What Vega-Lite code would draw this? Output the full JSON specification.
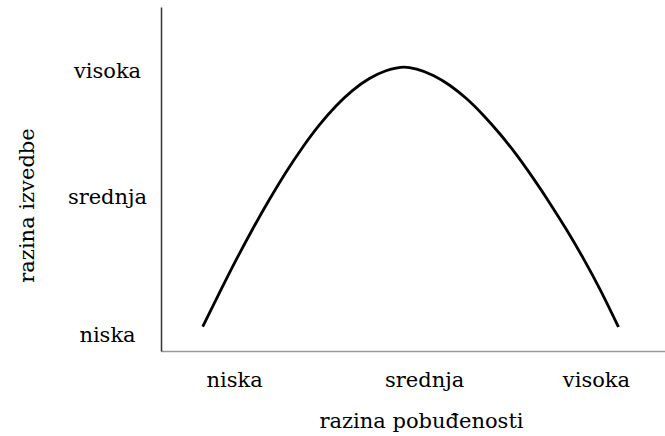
{
  "$schema": "https://vega.github.io/schema/vega-lite/v6.json",
  "width": 504,
  "height": 344,
  "autosize": {"type": "none"},
  "padding": {"left": 161, "top": 7, "right": 0, "bottom": 85},
  "background": "white",
  "config": {"view": {"stroke": null}, "font": "DejaVu Serif"},
  "data": {
    "values": [
      {"pobudenost": 8.27, "izvedba": 7.06},
      {"pobudenost": 11.59, "izvedba": 16.89},
      {"pobudenost": 14.88, "izvedba": 26.4},
      {"pobudenost": 18.19, "izvedba": 35.47},
      {"pobudenost": 21.51, "izvedba": 44.04},
      {"pobudenost": 24.8, "izvedba": 51.98},
      {"pobudenost": 28.12, "izvedba": 59.24},
      {"pobudenost": 31.43, "izvedba": 65.7},
      {"pobudenost": 34.72, "izvedba": 71.22},
      {"pobudenost": 38.04, "izvedba": 75.78},
      {"pobudenost": 41.35, "izvedba": 79.22},
      {"pobudenost": 44.64, "izvedba": 81.48},
      {"pobudenost": 48.3, "izvedba": 82.55},
      {"pobudenost": 50.73, "izvedba": 81.95},
      {"pobudenost": 54.03, "izvedba": 80.09},
      {"pobudenost": 57.34, "izvedba": 77.18},
      {"pobudenost": 60.65, "izvedba": 73.31},
      {"pobudenost": 63.95, "izvedba": 68.55},
      {"pobudenost": 67.26, "izvedba": 63.08},
      {"pobudenost": 70.58, "izvedba": 56.92},
      {"pobudenost": 73.87, "izvedba": 50.17},
      {"pobudenost": 77.18, "izvedba": 42.91},
      {"pobudenost": 80.5, "izvedba": 35.15},
      {"pobudenost": 83.79, "izvedba": 26.92},
      {"pobudenost": 87.1, "izvedba": 17.94},
      {"pobudenost": 90.77, "izvedba": 6.98}
    ]
  },
  "mark": {"type": "line", "color": "black", "strokeWidth": 2.8, "interpolate": "monotone"},
  "encoding": {
    "x": {
      "field": "pobudenost",
      "type": "quantitative",
      "scale": {"domain": [0, 100]},
      "axis": {
        "values": [14.5, 52.2, 86.3],
        "labelExpr": "datum.value < 30 ? 'niska' : datum.value < 70 ? 'srednja' : 'visoka'",
        "grid": false,
        "ticks": false,
        "tickSize": 0,
        "domainColor": "#999999",
        "domainWidth": 1.5,
        "labelPadding": 18,
        "labelFont": "DejaVu Serif",
        "labelFontSize": 21,
        "labelColor": "black",
        "labelFlush": false,
        "labelOverlap": false,
        "labelAlign": "center",
        "title": "razina pobuđenosti",
        "titleFont": "DejaVu Serif",
        "titleFontSize": 21,
        "titleFontWeight": "normal",
        "titleColor": "black",
        "titleX": 260,
        "titleY": 76,
        "titleAlign": "center",
        "titleBaseline": "alphabetic"
      }
    },
    "y": {
      "field": "izvedba",
      "type": "quantitative",
      "scale": {"domain": [0, 100]},
      "axis": {
        "values": [4.45, 44.6, 81.2],
        "labelExpr": "datum.value < 30 ? 'niska' : datum.value < 70 ? 'srednja' : 'visoka'",
        "grid": false,
        "ticks": false,
        "tickSize": 0,
        "domainColor": "#333333",
        "domainWidth": 1.5,
        "labelPadding": 54,
        "labelFont": "DejaVu Serif",
        "labelFontSize": 21,
        "labelColor": "black",
        "labelFlush": false,
        "labelOverlap": false,
        "labelAlign": "center",
        "labelBaseline": "middle",
        "title": "razina izvedbe",
        "titleFont": "DejaVu Serif",
        "titleFontSize": 21,
        "titleFontWeight": "normal",
        "titleColor": "black",
        "titleAngle": -90,
        "titleX": -128,
        "titleY": 198,
        "titleAlign": "center",
        "titleBaseline": "alphabetic"
      }
    }
  }
}
